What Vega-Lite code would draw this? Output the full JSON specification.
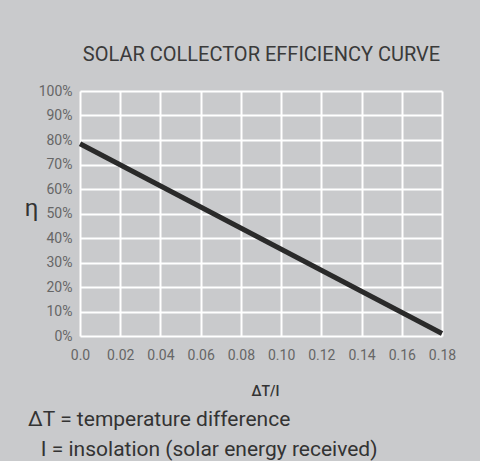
{
  "$schema": "https://vega.github.io/schema/vega-lite/v6.json",
  "autosize": "none",
  "width": 362,
  "height": 245,
  "padding": {"left": 80, "top": 91, "right": 38, "bottom": 125},
  "background": "#c9cacc",
  "config": {
    "font": "Roboto",
    "view": {"stroke": null},
    "axis": {"grid": true, "gridColor": "#ffffff", "gridWidth": 2, "gridOpacity": 1, "domain": false, "ticks": false, "labelFont": "Roboto", "labelFontSize": 14, "labelColor": "#666666"}
  },
  "title": {
    "text": ["ΔT = temperature difference", "\u200b\u2002\u200aI = insolation (solar energy received)"],
    "orient": "bottom",
    "anchor": "start",
    "frame": "group",
    "dx": -52,
    "offset": 11,
    "fontSize": 21,
    "fontWeight": "normal",
    "lineHeight": 30,
    "color": "#333333",
    "font": "Roboto"
  },
  "data": {"values": [
    {"ratio": 0.0, "eta": 0.785},
    {"ratio": 0.18, "eta": 0.01}
  ]},
  "resolve": {"axis": {"x": "independent"}},
  "encoding": {
    "y": {"field": "eta", "type": "quantitative", "scale": {"domain": [0, 1], "nice": false},
      "axis": {"values": [0, 0.1, 0.2, 0.3, 0.4, 0.5, 0.6, 0.7, 0.8, 0.9, 1.0], "format": ".0%",
        "labelPadding": 8, "labelBaseline": "middle",
        "title": "η", "titleAngle": 0, "titleFontSize": 24, "titleFontWeight": "normal", "titleColor": "#333333",
        "titleX": -49, "titleY": 124, "titleAlign": "center", "titleBaseline": "alphabetic"}}
  },
  "layer": [
    {
      "mark": {"type": "line", "color": "#2a2a2a", "strokeWidth": 5, "strokeCap": "butt"},
      "encoding": {
        "x": {"field": "ratio", "type": "quantitative", "scale": {"domain": [0, 0.18], "nice": false, "zero": false},
          "axis": {"orient": "bottom", "values": [0, 0.02, 0.04, 0.06, 0.08, 0.1, 0.12, 0.14, 0.16, 0.18],
            "labelExpr": "datum.value == 0 ? '0.0' : format(datum.value, '.2f')",
            "labelPadding": 12, "labelFlush": false, "labelBaseline": "top",
            "title": "ΔT/I", "titleFontSize": 14, "titleFontWeight": 500, "titleColor": "#333333",
            "titleX": 185, "titleY": 59, "titleBaseline": "alphabetic", "titleAlign": "center"}}
      }
    },
    {
      "mark": {"type": "line", "opacity": 0},
      "encoding": {
        "x": {"field": "ratio", "type": "quantitative",
          "axis": {"orient": "top", "labels": false, "grid": false, "ticks": false, "domain": false,
            "title": "SOLAR COLLECTOR EFFICIENCY CURVE", "titleFontSize": 20, "titleFontWeight": "normal", "titleColor": "#3a3a3a",
            "titleX": 181, "titleY": -31, "titleBaseline": "alphabetic", "titleAlign": "center"}}
      }
    }
  ]
}
